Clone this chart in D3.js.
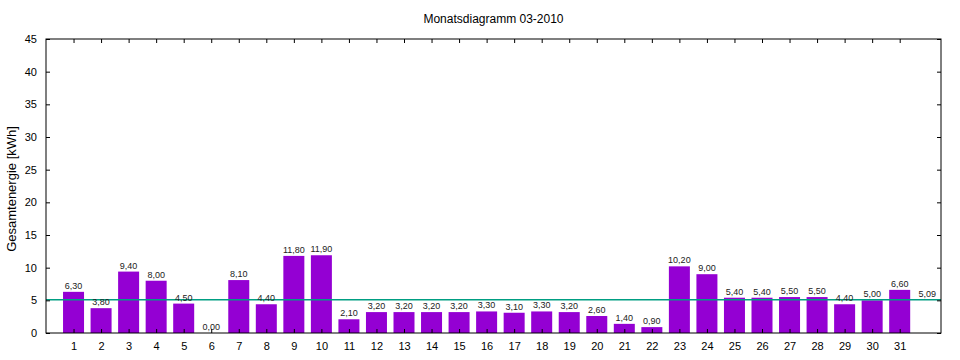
<!DOCTYPE html>
<html><head><meta charset="utf-8">
<script src="https://cdn.jsdelivr.net/npm/d3@7"></script>
<style>body{margin:0;background:#fff}</style>
</head><body>
<script>
const days = d3.range(1, 32);
const values = [6.3,3.8,9.4,8.0,4.5,0.0,8.1,4.4,11.8,11.9,2.1,3.2,3.2,3.2,3.2,3.3,3.1,3.3,3.2,2.6,1.4,0.9,10.2,9.0,5.4,5.4,5.5,5.5,4.4,5.0,6.6];
const average = 5.09;
const yTicks = [0,5,10,15,20,25,30,35,40,45];
const title = "Monatsdiagramm 03-2010";
const yLabel = "Gesamtenergie [kWh]";

const W = 960, H = 360;
const L = 46, R = 941, T = 39, B = 333;
const fmt = v => v.toFixed(2).replace(".", ",");

const svg = d3.select("body").append("svg").attr("width", W).attr("height", H)
  .style("font-family", "Liberation Sans, Arial, sans-serif");

const x = d3.scaleLinear().domain([0, 32.5]).range([L, R]);
const y = d3.scaleLinear().domain([0, 45]).range([B, T]);
const bw = 21;

// bars
svg.append("g").selectAll("rect").data(values).join("rect")
  .attr("x", (d, i) => x(days[i]) - bw / 2)
  .attr("width", bw)
  .attr("y", d => y(d))
  .attr("height", d => y(0) - y(d))
  .attr("fill", "#9400d3");

// average line
svg.append("line").attr("x1", L).attr("x2", R)
  .attr("y1", y(average)).attr("y2", y(average))
  .attr("stroke", "#009e82").attr("stroke-width", 1.3);

// value labels
svg.append("g").selectAll("text").data(values).join("text")
  .attr("x", (d, i) => x(days[i]))
  .attr("y", d => y(d) - 3)
  .attr("text-anchor", "middle")
  .attr("font-size", 9).attr("fill", "#222")
  .text(d => fmt(d));
svg.append("text").attr("x", x(32)).attr("y", y(average) - 3)
  .attr("text-anchor", "middle").attr("font-size", 9).attr("fill", "#222")
  .text(fmt(average));

// axes
const axB = svg.append("g").attr("transform", `translate(0,${B})`)
  .call(d3.axisBottom(x).tickValues(days).tickSize(-4).tickPadding(9).tickFormat(d3.format("d")));
const axT = svg.append("g").attr("transform", `translate(0,${T})`)
  .call(d3.axisTop(x).tickValues(days).tickSize(-4).tickFormat(""));
const axL = svg.append("g").attr("transform", `translate(${L},0)`)
  .call(d3.axisLeft(y).tickValues(yTicks).tickSize(-4).tickPadding(9).tickFormat(d3.format("d")));
const axR = svg.append("g").attr("transform", `translate(${R},0)`)
  .call(d3.axisRight(y).tickValues(yTicks).tickSize(-4).tickFormat(""));
[axB, axT, axL, axR].forEach(g => {
  g.select(".domain").remove();
  g.selectAll("line").attr("stroke", "#000");
  g.selectAll("text").attr("font-size", 11).attr("fill", "#000").attr("font-family", "Liberation Sans, Arial, sans-serif");
});

svg.append("rect").attr("x", L).attr("y", T).attr("width", R - L).attr("height", B - T)
  .attr("fill", "none").attr("stroke", "#000").attr("stroke-width", 1);

svg.append("text").attr("x", (L + R) / 2).attr("y", 23).attr("text-anchor", "middle")
  .attr("font-size", 12).attr("fill", "#000").text(title);
svg.append("text").attr("transform", `translate(16,${(T + B) / 2 + 3}) rotate(-90)`)
  .attr("text-anchor", "middle").attr("font-size", 13).attr("fill", "#000").text(yLabel);
</script>
</body></html>
